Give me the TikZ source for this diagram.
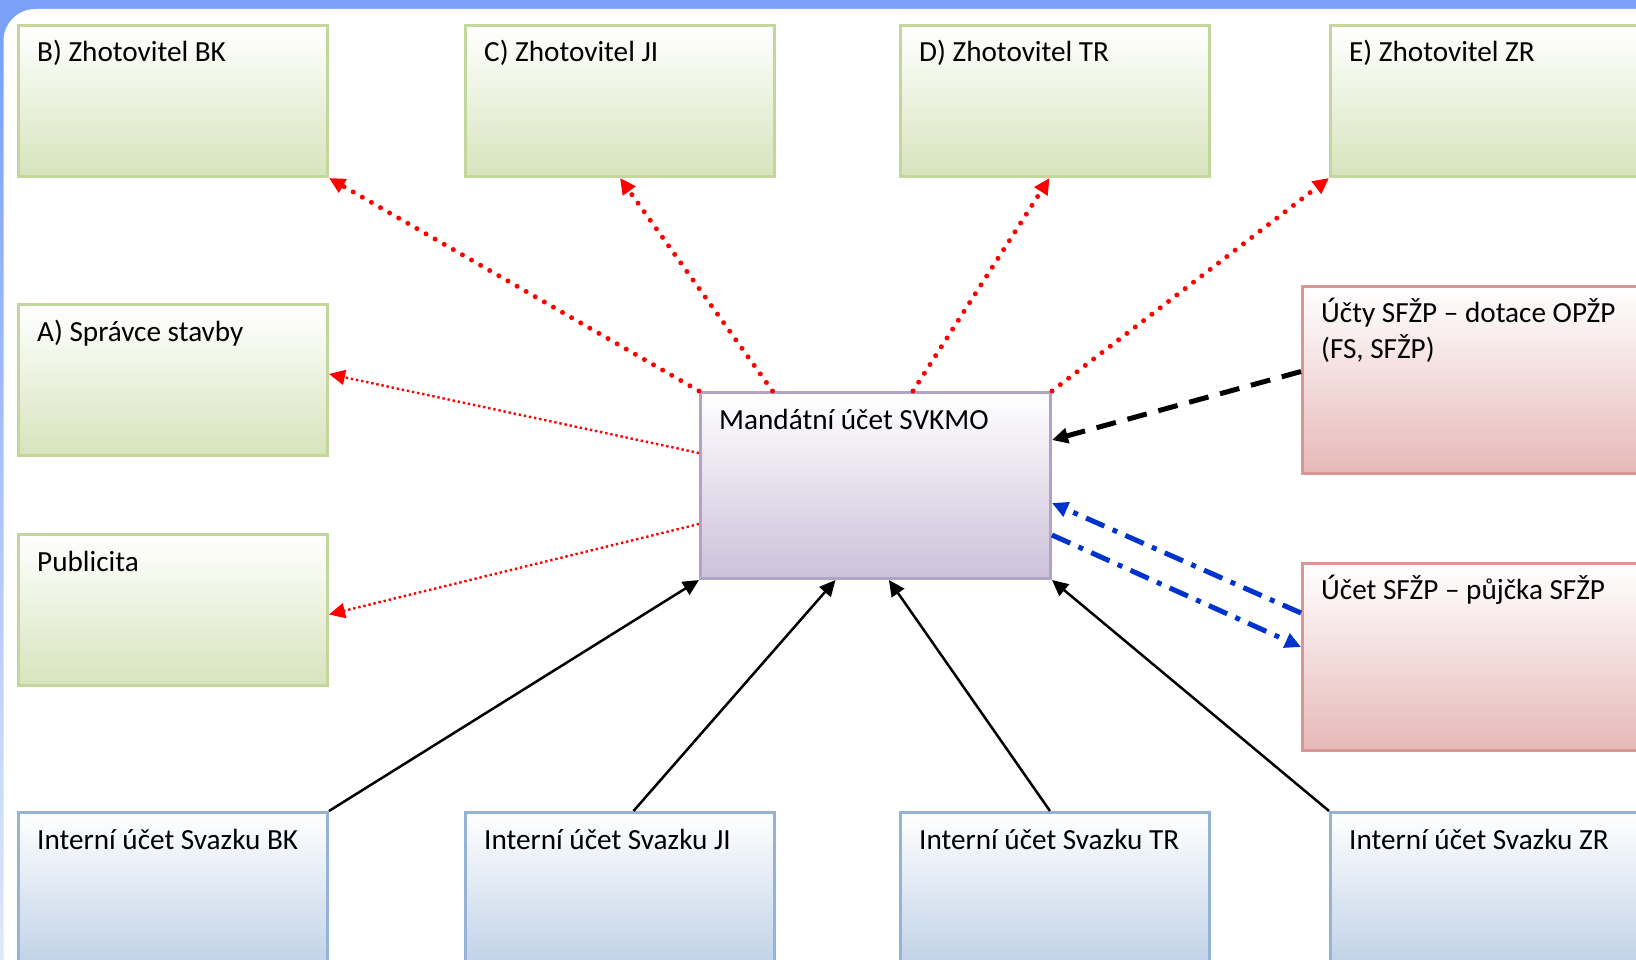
\documentclass[tikz,border=0pt]{standalone}
\usepackage{fontspec}
\setmainfont{Carlito}
\usetikzlibrary{arrows.meta,calc}
\definecolor{frameblue}{RGB}{122,160,248}
\definecolor{framelight}{RGB}{222,232,252}
\definecolor{gfill}{RGB}{215,228,189}
\definecolor{gline}{RGB}{195,214,155}
\definecolor{pfill}{RGB}{204,193,218}
\definecolor{pline}{RGB}{179,162,199}
\definecolor{rfill}{RGB}{230,185,184}
\definecolor{rline}{RGB}{217,150,148}
\definecolor{bfill}{RGB}{185,205,229}
\definecolor{bline}{RGB}{149,179,215}
\definecolor{arrred}{RGB}{255,0,0}
\definecolor{arrblue}{RGB}{0,51,204}
\tikzset{
  box/.style={draw, line width=3pt, anchor=north west, inner sep=0pt, minimum width=#1},
  greenbox/.style={box=309pt, draw=gline, top color=white, bottom color=gfill, minimum height=151pt},
  purplebox/.style={box=350pt, draw=pline, top color=white, bottom color=pfill, minimum height=186pt},
  redbox/.style={box=380pt, draw=rline, top color=white, bottom color=rfill, minimum height=187pt},
  bluebox/.style={box=309pt, draw=bline, top color=white, bottom color=bfill, minimum height=170pt},
  lbl/.style={anchor=base west, inner sep=0pt, font=\fontsize{29.2}{36.5}\selectfont},
  tip/.style={-{Triangle[length=16pt,width=15pt]}},
  reddotbig/.style={tip, draw=arrred, line width=5pt, line cap=round, dash pattern=on 0pt off 10.5pt},
  reddotsmall/.style={tip, draw=arrred, line width=2.4pt, dash pattern=on 2.4pt off 2.8pt},
  blackdash/.style={tip, draw=black, line width=5pt, dash pattern=on 20pt off 12pt},
  bluedashdot/.style={tip, draw=arrblue, line width=5pt, dash pattern=on 20pt off 9pt on 5pt off 9pt},
  blackline/.style={tip, draw=black, line width=2.5pt},
}
\begin{document}
\begin{tikzpicture}[x=1pt,y=-1pt]
\clip (0,0) rectangle (1636,960);
% frame
\fill[frameblue] (0,0) rectangle (1636,960);
\shade[top color=frameblue, bottom color=framelight] (0,40) rectangle (4,960);
\fill[white, rounded corners=32pt] (3.5,9) rectangle (1700,1000);
% boxes
\node[greenbox] (B) at (17,24) {};
\node[greenbox] (C) at (464,24) {};
\node[greenbox] (D) at (899,24) {};
\node[greenbox] (E) at (1329,24) {};
\node[greenbox] (A) at (17,303) {};
\node[greenbox] (P) at (17,533) {};
\node[purplebox] (M) at (699,391) {};
\node[redbox] (U1) at (1301,285) {};
\node[redbox] (U2) at (1301,562) {};
\node[bluebox] (I1) at (17,811) {};
\node[bluebox] (I2) at (464,811) {};
\node[bluebox] (I3) at (899,811) {};
\node[bluebox] (I4) at (1329,811) {};
% labels
\node[lbl] (tB) at ($(B.north west)+(20,38)$) {B) Zhotovitel BK};
\node[lbl] (tC) at ($(C.north west)+(20,38)$) {C) Zhotovitel JI};
\node[lbl] (tD) at ($(D.north west)+(20,38)$) {D) Zhotovitel TR};
\node[lbl] (tE) at ($(E.north west)+(20,38)$) {E) Zhotovitel ZR};
\node[lbl] (tA) at ($(A.north west)+(20,38)$) {A) Správce stavby};
\node[lbl] (tP) at ($(P.north west)+(20,38)$) {Publicita};
\node[lbl] (tM) at ($(M.north west)+(20,38)$) {Mandátní účet SVKMO};
\node[lbl] (tU1) at ($(U1.north west)+(20,37)$) {\begin{tabular}[t]{@{}l@{}}Účty SFŽP – dotace OPŽP\\(FS, SFŽP)\end{tabular}};
\node[lbl] (tU2) at ($(U2.north west)+(20,37)$) {Účet SFŽP – půjčka SFŽP};
\node[lbl] (tI1) at ($(I1.north west)+(20,38)$) {Interní účet Svazku BK};
\node[lbl] (tI2) at ($(I2.north west)+(20,38)$) {Interní účet Svazku JI};
\node[lbl] (tI3) at ($(I3.north west)+(20,38)$) {Interní účet Svazku TR};
\node[lbl] (tI4) at ($(I4.north west)+(20,38)$) {Interní účet Svazku ZR};
% red dotted arrows
\draw[reddotbig] (M.north west) -- (B.south east);
\draw[reddotbig] ([xshift=73.5pt]M.north west) -- (C.south);
\draw[reddotbig] ([xshift=214pt]M.north west) -- ([xshift=-5.5pt]D.south);
\draw[reddotbig] (M.north east) -- (E.south west);
\draw[reddotsmall] ([yshift=-62pt]M.north west) -- ([yshift=6pt]A.east);
\draw[reddotsmall] ([yshift=-133pt]M.north west) -- ([yshift=-4.5pt]P.east);
% black dashed
\draw[blackdash] ([yshift=-86.5pt]U1.north west) -- ([yshift=-49pt]M.north east);
% blue dash-dot
\draw[bluedashdot] ([yshift=-51pt]U2.north west) -- ([yshift=-112pt]M.north east);
\draw[bluedashdot] ([yshift=-144pt]M.north east) -- ([yshift=-85pt]U2.north west);
% black solid
\draw[blackline] (I1.north east) -- (M.south west);
\draw[blackline] ([xshift=13.5pt]I2.north) -- ([xshift=-40pt]M.south);
\draw[blackline] ([xshift=-5pt]I3.north) -- ([xshift=13.4pt]M.south);
\draw[blackline] (I4.north west) -- (M.south east);
\end{tikzpicture}
\end{document}
